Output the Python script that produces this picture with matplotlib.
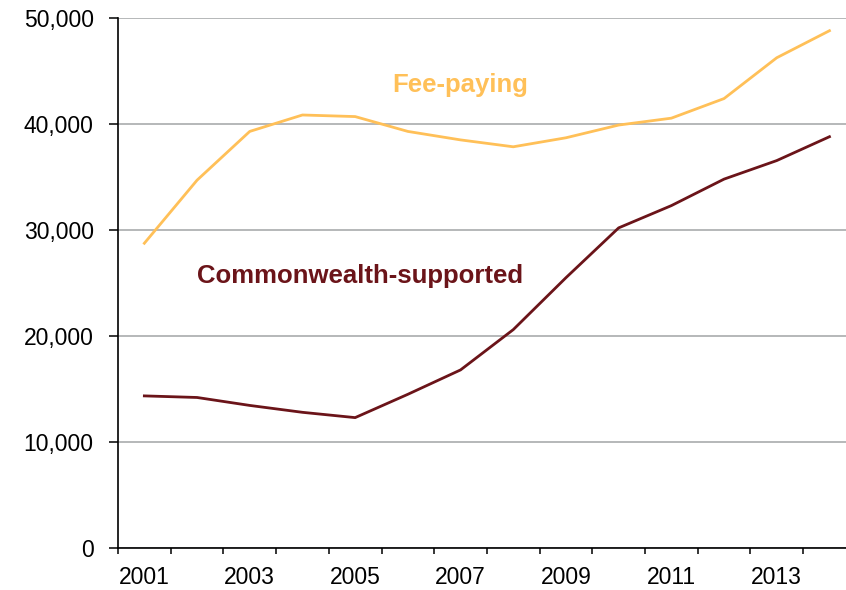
import numpy as np
import matplotlib.pyplot as plt
from matplotlib.ticker import FixedLocator, FuncFormatter

# Data
years = [2001, 2002, 2003, 2004, 2005, 2006, 2007, 2008, 2009, 2010, 2011, 2012, 2013, 2014]
fee_paying = [28750, 34700, 39300, 40850, 40700, 39300, 38500, 37850, 38700, 39900, 40550, 42400, 46250, 48800]
commonwealth = [14350, 14200, 13450, 12800, 12300, 14500, 16800, 20600, 25500, 30200, 32300, 34800, 36550, 38800]

fee_color = '#ffc058'
cw_color = '#6b1419'

plt.rcParams['font.family'] = ['Liberation Sans', 'DejaVu Sans']

fig = plt.figure(figsize=(8.46, 5.90), dpi=100)
ax = fig.add_axes([118 / 846, 42 / 590, 737.8 / 846, 530 / 590])

x = np.arange(len(years))
ax.plot(x, fee_paying, color=fee_color, linewidth=2.0, solid_joinstyle='round')
ax.plot(x, commonwealth, color=cw_color, linewidth=2.0, solid_joinstyle='round')

# Series labels
ax.text(6.0, 43000, 'Fee-paying', color=fee_color, fontsize=18.5,
        fontweight='bold', ha='center', va='baseline')
ax.text(4.1, 25000, 'Commonwealth-supported', color=cw_color, fontsize=18.5,
        fontweight='bold', ha='center', va='baseline')

# Axes limits and ticks
ax.set_xlim(-0.5, len(years) - 0.5)
ax.set_ylim(0, 50000)
ax.set_yticks(np.arange(0, 50001, 10000))
ax.yaxis.set_major_formatter(FuncFormatter(lambda v, p: f'{int(v):,}'))

ax.xaxis.set_major_locator(FixedLocator(x[::2]))
ax.set_xticklabels([str(y) for y in years[::2]])
ax.xaxis.set_minor_locator(FixedLocator(np.arange(-0.5, len(years), 1.0)))

ax.tick_params(axis='x', which='major', length=0, pad=13, labelsize=16.5, labelcolor='black')
ax.tick_params(axis='x', which='minor', length=4.5, width=1.1, direction='out', color='black')
ax.tick_params(axis='y', which='major', length=6.5, width=1.1, direction='out', pad=11,
               labelsize=16.5, labelcolor='black', color='black')

# Gridlines
ax.grid(axis='y', color='#a9abad', linewidth=1.2)
ax.set_axisbelow(True)

for side in ['top', 'right']:
    ax.spines[side].set_visible(False)
for side in ['left', 'bottom']:
    ax.spines[side].set_linewidth(1.2)
    ax.spines[side].set_color('black')

fig.savefig('out.png', dpi=100)
